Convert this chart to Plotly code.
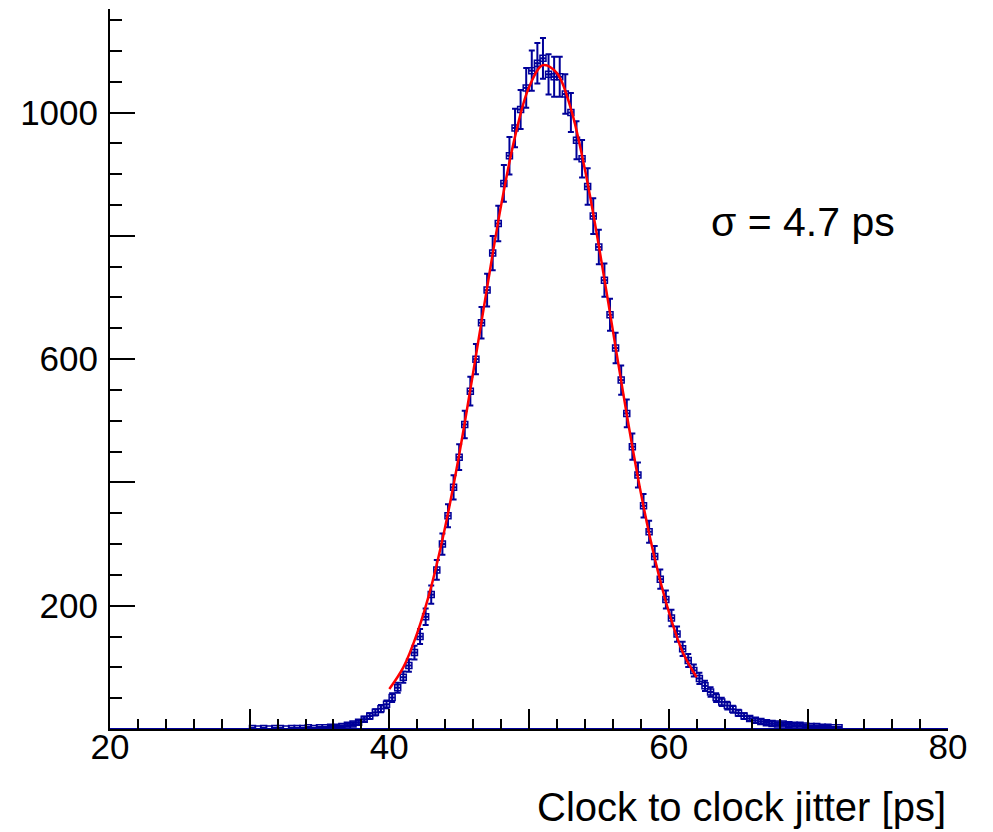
import numpy as np
import plotly.graph_objects as go

# histogram binning (ps)
hist_range = [20, 80]
first_edge = 30.0
bin_width = 0.4

# bin contents, one per 0.4 ps bin starting at 30 ps
counts = [
    1, 0, 1, 0, 1, 1, 0, 1, 1, 1, 2, 1, 2, 2, 3, 3, 4,
    6, 8, 11, 16, 21, 27, 33, 40, 51, 67, 84, 103, 124, 150, 182, 218,
    258, 300, 346, 392, 441, 494, 548, 600, 659, 712, 772, 820, 885, 930,
    975, 1005, 1040, 1068, 1080, 1088, 1062, 1058, 1058, 1030, 1000, 955,
    925, 880, 832, 782, 728, 672, 618, 566, 512, 458, 412, 362, 320, 280,
    243, 210, 180, 154, 130, 111, 95, 82, 70, 60, 51, 44, 38, 32, 26, 21,
    17, 14, 12, 10, 9, 8, 8, 7, 6, 6, 5, 4, 4, 3, 3, 2, 2,
]

# fitted gaussian, sampled off the red curve
fit_x = [40, 41, 42, 43, 44, 45, 46, 47, 48, 49, 50, 51,
         52, 53, 54, 55, 56, 57, 58, 59, 60, 61, 62]
fit_y = [65, 100, 156, 231, 328, 445, 578, 716, 849, 961, 1041, 1077,
         1064, 1006, 908, 784, 647, 510, 384, 277, 191, 125, 84]

sigma_text = "σ = 4.7 ps"

centers = first_edge + bin_width / 2 + bin_width * np.arange(len(counts))
errs = np.sqrt(np.array(counts, dtype=float))

navy = "#000099"
font = "Liberation Sans, Arial, sans-serif"

fig = go.Figure()

# empty bins along the baseline
fig.add_trace(go.Scatter(
    x=hist_range, y=[0, 0], mode="lines",
    line=dict(color=navy, width=2), showlegend=False, hoverinfo="skip"
))

fig.add_trace(go.Scatter(
    x=centers, y=counts, mode="markers",
    marker=dict(symbol="square-open", size=6, color=navy,
                line=dict(color=navy, width=1.5)),
    error_y=dict(type="data", array=errs, visible=True, color=navy,
                 thickness=2, width=3),
    error_x=dict(type="constant", value=bin_width / 2, visible=True,
                 color=navy, thickness=2, width=0),
    showlegend=False
))

fig.add_trace(go.Scatter(
    x=fit_x, y=fit_y, mode="lines", line_shape="spline",
    line=dict(color="#ff0000", width=2.5), showlegend=False
))

fig.add_annotation(
    text=sigma_text, xref="paper", yref="paper",
    x=0.827, y=0.704, xanchor="center", yanchor="middle",
    showarrow=False, font=dict(family=font, size=41, color="black")
)
fig.add_annotation(
    text="Clock to clock jitter [ps]", xref="paper", yref="paper",
    x=1.0, y=-0.108, xanchor="right", yanchor="middle",
    showarrow=False, font=dict(family=font, size=40, color="black")
)

fig.update_xaxes(
    range=hist_range, showgrid=False, zeroline=False,
    showline=True, linecolor="black", linewidth=2,
    ticks="inside", ticklen=20, tickwidth=1.5, tickcolor="black",
    tickmode="array", tickvals=[20, 30, 40, 50, 60, 70, 80],
    ticktext=["20", "", "40", "", "60", "", "80"],
    tickfont=dict(family=font, size=35, color="black"),
    ticklabelstandoff=-14,
    minor=dict(ticks="inside", ticklen=10, tickwidth=1.5, tickcolor="black",
               tickmode="linear", tick0=20, dtick=2, showgrid=False),
)
fig.update_yaxes(
    range=[0, 1168], showgrid=False, zeroline=False,
    showline=True, linecolor="black", linewidth=2,
    ticks="inside", ticklen=25, tickwidth=1.5, tickcolor="black",
    tickmode="array", tickvals=[200, 400, 600, 800, 1000],
    ticktext=["200", "", "600", "", "1000"],
    tickfont=dict(family=font, size=35, color="black"),
    ticklabelstandoff=3,
    minor=dict(ticks="inside", ticklen=12, tickwidth=1.5, tickcolor="black",
               tickmode="linear", tick0=0, dtick=50, showgrid=False),
)

# page body adds an 8px offset, so the figure is 985x824
fig.update_layout(
    width=985, height=824,
    margin=dict(l=102, r=45, t=1, b=103),
    paper_bgcolor="white", plot_bgcolor="white",
    font=dict(family=font),
)

fig.write_html("out.html")
